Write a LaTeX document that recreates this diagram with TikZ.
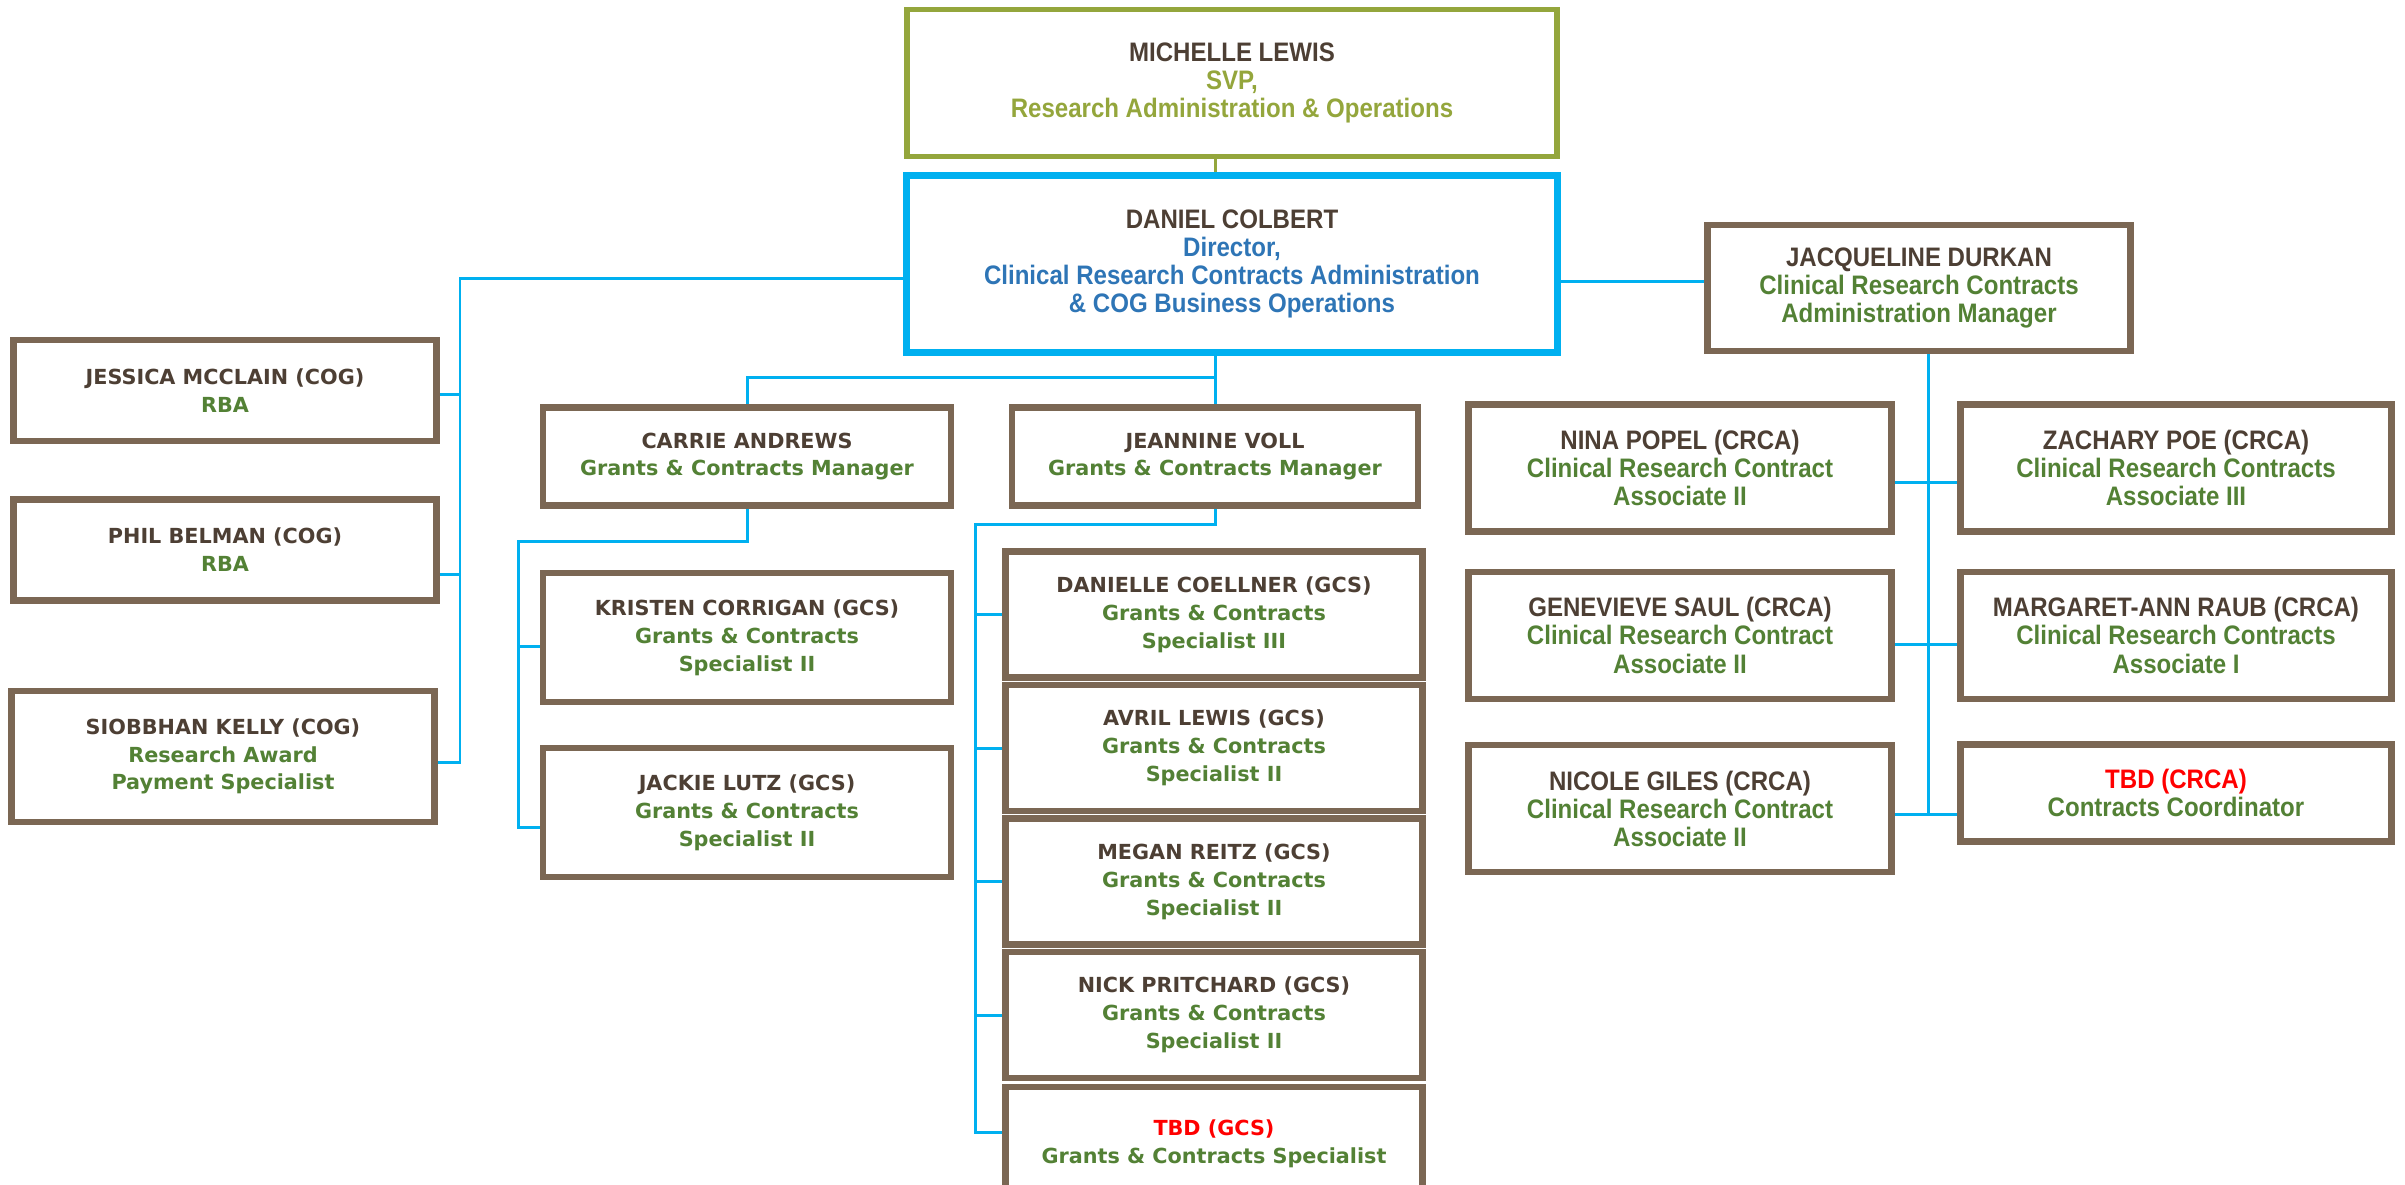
\documentclass[tikz,border=0pt]{standalone}
\usepackage{fontspec}
\setmainfont{DejaVu Sans}
\newfontfamily\narrowfont[FakeStretch=0.9]{Liberation Sans}
\usetikzlibrary{positioning, calc}

\definecolor{boxbrown}{RGB}{123,103,84}
\definecolor{namebrown}{RGB}{77,63,52}
\definecolor{rolegreen}{RGB}{83,129,53}
\definecolor{svpolive}{RGB}{148,166,60}
\definecolor{linkblue}{RGB}{0,176,240}
\definecolor{dirblue}{RGB}{46,117,182}
\definecolor{tbdred}{RGB}{255,0,0}

\begin{document}
\begin{tikzpicture}[x=0.01cm, y=-0.01cm,
    staff/.style={draw=boxbrown, line width=1.8pt, fill=white, align=center,
        text=namebrown, inner sep=0pt, minimum width=4.08cm,
        font=\bfseries\fontsize{5.9}{7.9}\selectfont},
    crca/.style={staff, minimum width=4.23cm,
        font=\narrowfont\bfseries\fontsize{7.6}{8}\selectfont},
    link/.style={draw=linkblue, line width=0.85pt}]
    \useasboundingbox (0,0) rectangle (2405,1184);

    % Leadership
    \node[crca, draw=svpolive, line width=1.6pt, minimum width=6.5cm, minimum height=1.47cm] (michelle) at (1232,83)
        {MICHELLE LEWIS\\\textcolor{svpolive}{SVP,}\\\textcolor{svpolive}{Research Administration \& Operations}};
    \node[crca, draw=linkblue, line width=2pt, minimum width=6.5cm, minimum height=1.76cm] (daniel) at (1232,264)
        {DANIEL COLBERT\\\textcolor{dirblue}{Director,}\\\textcolor{dirblue}{Clinical Research Contracts Administration}\\\textcolor{dirblue}{\& COG Business Operations}};
    \node[crca, minimum height=1.26cm] (jacqueline) at (1919,288)
        {JACQUELINE DURKAN\\\textcolor{rolegreen}{Clinical Research Contracts}\\\textcolor{rolegreen}{Administration Manager}};

    % COG
    \node[staff, minimum width=4.23cm, minimum height=1.01cm] (jessica) at (225,390.5)
        {JESSICA MCCLAIN (COG)\\\textcolor{rolegreen}{RBA}};
    \node[staff, minimum width=4.23cm, minimum height=1.01cm] (phil) at (225,550)
        {PHIL BELMAN (COG)\\\textcolor{rolegreen}{RBA}};
    \node[staff, minimum width=4.23cm, minimum height=1.31cm] (siobbhan) at (223,756.5)
        {SIOBBHAN KELLY (COG)\\\textcolor{rolegreen}{Research Award}\\\textcolor{rolegreen}{Payment Specialist}};

    % Grants & contracts managers
    \node[staff, minimum height=0.98cm] (carrie) at (747,456.5)
        {CARRIE ANDREWS\\\textcolor{rolegreen}{Grants \& Contracts Manager}};
    \node[staff, minimum width=4.06cm, minimum height=0.98cm] (jeannine) at (1215,456.5)
        {JEANNINE VOLL\\\textcolor{rolegreen}{Grants \& Contracts Manager}};

    % GCS under Carrie
    \node[staff, minimum height=1.29cm] (kristen) at (747,637.5)
        {KRISTEN CORRIGAN (GCS)\\\textcolor{rolegreen}{Grants \& Contracts}\\\textcolor{rolegreen}{Specialist II}};
    \node[staff, minimum height=1.29cm] (jackie) at (747,812.5)
        {JACKIE LUTZ (GCS)\\\textcolor{rolegreen}{Grants \& Contracts}\\\textcolor{rolegreen}{Specialist II}};

    % GCS under Jeannine
    \node[staff, minimum width=4.17cm, minimum height=1.26cm] (danielle) at (1214,614.6)
        {DANIELLE COELLNER (GCS)\\\textcolor{rolegreen}{Grants \& Contracts}\\\textcolor{rolegreen}{Specialist III}};
    \node[staff, minimum width=4.17cm, minimum height=1.26cm] (avril) at (1214,748)
        {AVRIL LEWIS (GCS)\\\textcolor{rolegreen}{Grants \& Contracts}\\\textcolor{rolegreen}{Specialist II}};
    \node[staff, minimum width=4.17cm, minimum height=1.26cm] (megan) at (1214,881.5)
        {MEGAN REITZ (GCS)\\\textcolor{rolegreen}{Grants \& Contracts}\\\textcolor{rolegreen}{Specialist II}};
    \node[staff, minimum width=4.17cm, minimum height=1.26cm] (nick) at (1214,1015)
        {NICK PRITCHARD (GCS)\\\textcolor{rolegreen}{Grants \& Contracts}\\\textcolor{rolegreen}{Specialist II}};
    \node[staff, minimum width=4.17cm, minimum height=1.14cm] (tbdgcs) at (1214,1144)
        {\textcolor{tbdred}{TBD (GCS)}\\\textcolor{rolegreen}{Grants \& Contracts Specialist}};

    % CRCA
    \node[crca, minimum height=1.27cm] (nina) at (1680,468)
        {NINA POPEL (CRCA)\\\textcolor{rolegreen}{Clinical Research Contract}\\\textcolor{rolegreen}{Associate II}};
    \node[crca, minimum width=4.31cm, minimum height=1.27cm] (zachary) at (2176,468)
        {ZACHARY POE (CRCA)\\\textcolor{rolegreen}{Clinical Research Contracts}\\\textcolor{rolegreen}{Associate III}};
    \node[crca, minimum height=1.27cm] (genevieve) at (1680,635.3)
        {GENEVIEVE SAUL (CRCA)\\\textcolor{rolegreen}{Clinical Research Contract}\\\textcolor{rolegreen}{Associate II}};
    \node[crca, minimum width=4.31cm, minimum height=1.27cm] (margaret) at (2176,635.3)
        {MARGARET-ANN RAUB (CRCA)\\\textcolor{rolegreen}{Clinical Research Contracts}\\\textcolor{rolegreen}{Associate I}};
    \node[crca, minimum height=1.27cm] (nicole) at (1680,808.6)
        {NICOLE GILES (CRCA)\\\textcolor{rolegreen}{Clinical Research Contract}\\\textcolor{rolegreen}{Associate II}};
    \node[crca, minimum width=4.31cm, minimum height=0.97cm] (tbdcrca) at (2176,793)
        {\textcolor{tbdred}{TBD (CRCA)}\\\textcolor{rolegreen}{Contracts Coordinator}};

    % Bus points
    \coordinate (cogbus) at (460,278);
    \coordinate (jacqbus) at (0,281);
    \coordinate (mgrbus) at (0,377);
    \coordinate (carriebus) at (518.5,541.5);
    \coordinate (jeanbus) at (975.6,524.6);
    \coordinate (crcabus) at (1928,0);

    % Connectors
    \draw[draw=svpolive, line width=0.85pt] (michelle.south -| jeannine.north) -- (daniel.north -| jeannine.north);
    \draw[link] (cogbus -| daniel.west) -- (cogbus) -- (cogbus |- 0,762) -- (siobbhan.east |- 0,762);
    \draw[link] (jessica.east |- 0,394) -- (cogbus |- 0,394);
    \draw[link] (phil.east |- 0,574) -- (cogbus |- 0,574);
    \draw[link] (jacqbus -| daniel.east) -- (jacqbus -| jacqueline.west);
    \draw[link] (daniel.south -| jeannine.north) -- (jeannine.north);
    \draw[link] (mgrbus -| jeannine.north) -- (mgrbus -| carrie.north) -- (carrie.north);

    \draw[link] (carrie.south) -- (carrie.south |- carriebus) -- (carriebus) -- (carriebus |- 0,827) -- (jackie.west |- 0,827);
    \draw[link] (kristen.west |- 0,646) -- (carriebus |- 0,646);

    \draw[link] (jeannine.south) -- (jeannine.south |- jeanbus) -- (jeanbus) -- (jeanbus |- 0,1132) -- (tbdgcs.west |- 0,1132);
    \foreach \s in {danielle, avril, megan, nick}
        \draw[link] (\s.west) -- (\s.west -| jeanbus);

    \draw[link] (jacqueline.south -| crcabus) -- (crcabus |- 0,815);
    \draw[link] ($(nina.east)+(0,14)$) -- ($(nina.east -| zachary.west)+(0,14)$);
    \draw[link] ($(genevieve.east)+(0,9)$) -- ($(genevieve.east -| margaret.west)+(0,9)$);
    \draw[link] ($(nicole.east)+(0,6)$) -- ($(nicole.east -| tbdcrca.west)+(0,6)$);
\end{tikzpicture}
\end{document}
